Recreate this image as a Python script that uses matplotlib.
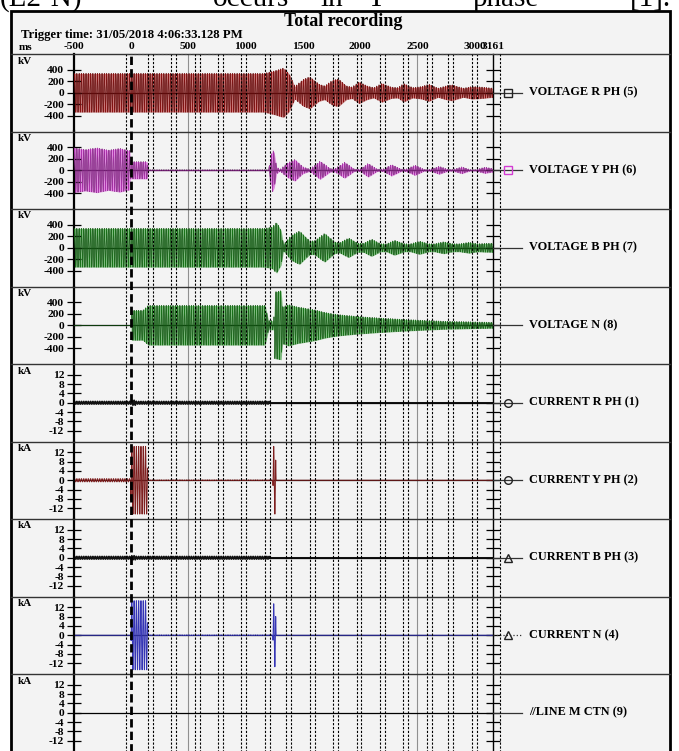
import numpy as np
import matplotlib.pyplot as plt
from matplotlib.lines import Line2D
from matplotlib.patches import Rectangle

plt.rcParams['font.family'] = ['Liberation Serif', 'DejaVu Serif']
plt.rcParams['axes.unicode_minus'] = False

W, H = 679, 751

# ---- data ----
channels = ["VOLTAGE R PH (5)", "VOLTAGE Y PH (6)", "VOLTAGE B PH (7)", "VOLTAGE N (8)",
            "CURRENT R PH (1)", "CURRENT Y PH (2)", "CURRENT B PH (3)", "CURRENT N (4)",
            "//LINE M CTN (9)"]
units = ["kV", "kV", "kV", "kV", "kA", "kA", "kA", "kA", "kA"]
colors = ["#a51515", "#d23cd2", "#1e8c1e", "#1e8c1e", "#111111", "#7e1f1f", "#111111", "#3535b5", "#111111"]
markers = ["s", "s", None, None, "o", "o", "^", "^", None]

kv_ticks = [-400, -200, 0, 200, 400]
ka_ticks = [-12, -8, -4, 0, 4, 8, 12]
x_ticks = [-500, 0, 500, 1000, 1500, 2000, 2500, 3000, 3161]
t_end = 3161

# envelope keypoints (ms, peak value)
r_t = [-500, 1160, 1250, 1330, 1380, 1430, 1500, 1560, 1640, 1690, 1760, 1810, 1880, 1930, 1990,
       2060, 2120, 2190, 2270, 2330, 2380, 2460, 2540, 2600, 2680, 2750, 2800, 2900, 2980, 3060, 3161]
r_a = [337, 337, 380, 430, 330, 110, 230, 280, 150, 120, 220, 240, 120, 100, 190,
       120, 90, 165, 100, 90, 160, 90, 110, 150, 80, 120, 140, 80, 110, 100, 80]

y_t = [-500, -400, -300, -200, -100, -12, -8, 140, 150, 1200, 1215, 1235, 1250, 1270, 1300, 1360, 1430,
       1500, 1560, 1650, 1740, 1780, 1865, 1950, 2000, 2070, 2150, 2200, 2275, 2360, 2400, 2480,
       2560, 2610, 2690, 2770, 2810, 2890, 2960, 3010, 3090, 3161]
y_a = [390, 360, 390, 350, 380, 340, 150, 150, 8, 8, 200, 370, 300, 60, 15, 120, 190,
       60, 20, 160, 30, 30, 140, 20, 20, 120, 20, 20, 100, 20, 20, 90,
       15, 15, 70, 15, 15, 60, 12, 12, 55, 30]

b_t = [-500, 1160, 1230, 1270, 1310, 1330, 1400, 1470, 1560, 1600, 1690, 1780, 1820, 1900, 1980,
       2030, 2100, 2180, 2230, 2300, 2390, 2440, 2520, 2600, 2650, 2730, 2810, 2870, 2950, 3030, 3080, 3161]
b_a = [337, 337, 360, 440, 300, 60, 220, 290, 120, 120, 250, 100, 90, 170, 80,
       80, 150, 70, 70, 130, 70, 70, 115, 70, 70, 105, 70, 70, 95, 70, 75, 80]

n_t = [-500, -2, 0, 100, 150, 1170, 1200, 1245, 1255, 1310, 1320, 1375, 1450, 1600, 1700, 1810,
       2000, 2160, 2400, 2740, 3161]
n_a = [0, 0, 260, 260, 345, 345, 80, 80, 580, 600, 320, 360, 320, 270, 220, 185,
       150, 128, 100, 70, 52]

ir_t = [-500, -5, 0, 40, 45, 1205, 1210, 3161]
ir_a = [0.6, 0.6, 1.1, 1.1, 0.6, 0.6, 0.0, 0.0]

iy_t = [-500, -5, -2, 140, 145, 1238, 1240, 1262, 1265, 3161]
iy_a = [0.7, 0.7, 14.5, 14.5, 0.15, 0.15, 14.5, 14.5, 0.0, 0.0]

ib_t = [-500, -5, 0, 40, 45, 1205, 1210, 3161]
ib_a = [0.6, 0.6, 0.9, 0.9, 0.6, 0.6, 0.0, 0.0]

in_t = [-500, -2, 0, 140, 145, 1238, 1240, 1262, 1265, 3161]
in_a = [0.0, 0.0, 14.8, 14.8, 0.15, 0.15, 13.5, 13.5, 0.0, 0.0]

env = [(r_t, r_a), (y_t, y_a), (b_t, b_a), (n_t, n_a),
       (ir_t, ir_a), (iy_t, iy_a), (ib_t, ib_a), (in_t, in_a), ([-500, t_end], [0, 0])]

# cursor lines (ms)
cursor_t = [-44, 146, 190, 350, 394, 554, 598, 759, 802, 962, 1006, 1166, 1210, 1356, 1400,
            1560, 1604, 1765, 1808, 1969, 2012, 2172, 2216, 2377, 2421, 2581, 2625, 2771, 2815,
            2975, 3018]
grid_t = [500, 2500]

paper_words = ["(L2-N)", "occurs", "in", "Y", "phase", "[1]."]
paper_x = [0, 213, 320, 366, 473, 630]


def fx(x):
    return x / W


def fy(y):
    return 1 - y / H


fig = plt.figure(figsize=(W / 100, H / 100), dpi=100)
fig.patch.set_facecolor("white")

# frame
fig.add_artist(Rectangle((fx(11), fy(760)), fx(670 - 11), (760 - 11) / H, facecolor="#f3f3f3",
                         edgecolor="black", lw=2, transform=fig.transFigure, zorder=0))

# paper text line, cut by the top edge as in the screenshot
for word, xp in zip(paper_words, paper_x):
    fig.text(fx(xp), fy(6), word, fontsize=21, ha="left", va="baseline")

fig.text(fx(343), fy(22), "Total recording", fontsize=13, weight="bold", ha="center", va="center")
fig.text(fx(21), fy(35), "Trigger time: 31/05/2018 4:06:33.128 PM", fontsize=9.2, weight="bold",
         ha="left", va="center")
fig.text(fx(19), fy(48), "ms", fontsize=8, weight="bold", ha="left", va="center")

top0, ph = 54, 77.5
xl, xr = 74, 493
t = np.arange(-500, t_end + 0.25, 0.25)
carrier = np.sin(2 * np.pi * 50 * t / 1000)

for i, name in enumerate(channels):
    top = top0 + i * ph
    ax = fig.add_axes([fx(xl), fy(top + ph), fx(xr - xl), ph / H])
    ax.patch.set_alpha(0)
    ax.set_xlim(-500, t_end)
    if units[i] == "kV":
        ax.set_ylim(-674, 674)
        ax.set_yticks(kv_ticks)
    else:
        ax.set_ylim(-16.6, 16.6)
        ax.set_yticks(ka_ticks)
    for s in ["top", "bottom"]:
        ax.spines[s].set_visible(False)
    ax.spines["left"].set_linewidth(1.6)
    ax.spines["right"].set_linewidth(1.0)
    ax.tick_params(axis="y", direction="inout", length=10, width=0.9, right=True,
                   labelsize=8.2, pad=2)
    for lb in ax.get_yticklabels():
        lb.set_fontweight("bold")
    if i == 0:
        ax.xaxis.set_ticks_position("top")
        ax.set_xticks(x_ticks)
        ax.tick_params(axis="x", length=0, pad=2, labelsize=8.2)
        for lb in ax.get_xticklabels():
            lb.set_fontweight("bold")
    else:
        ax.set_xticks([])

    for g in grid_t:
        ax.axvline(g, color="#909090", lw=0.8, zorder=0.5)
    ax.axhline(0, color="black", lw=0.9, zorder=1)

    et, ea = env[i]
    amp = np.interp(t, et, ea)
    sig = amp * carrier
    if i < 4:
        ax.fill_between(t, -amp, amp, color=colors[i], alpha=0.55, lw=0, zorder=1.5)
        ax.plot(t, sig, color="black", lw=0.35, zorder=2)
        ax.plot(t[::2], sig[::2], color=colors[i], lw=0.35, alpha=0.85, zorder=3)
    elif i < 8:
        lw = 1.1 if i in (4, 6) else 0.7
        ax.plot(t, sig, color=colors[i], lw=lw, zorder=2)

    # unit label
    fig.text(fx(18), fy(top + 7), units[i], fontsize=8, weight="bold", ha="left", va="center")

    # panel separator
    fig.add_artist(Line2D([fx(11), fx(670)], [fy(top), fy(top)], color="#333333", lw=1.0))

    # legend entry
    yz = fy(top + ph / 2)
    ls = ":" if i == 7 else "-"
    fig.add_artist(Line2D([fx(xr), fx(522)], [yz, yz], color="#333333", lw=0.9, ls=ls))
    if markers[i]:
        mc = colors[i] if i == 1 else "#222222"
        fig.add_artist(Line2D([fx(508)], [yz], marker=markers[i], ms=5.5, mfc="none", mec=mc, mew=1.0))
    fig.text(fx(529), yz, name, fontsize=8.8, weight="bold", ha="left", va="center")

# overlay with cursor lines across all panels
ov = fig.add_axes([fx(xl), fy(760), fx(xr - xl), (760 - top0) / H], zorder=5)
ov.set_xlim(-500, t_end)
ov.set_ylim(0, 1)
ov.axis("off")
for c in cursor_t:
    ov.axvline(c, color="black", lw=0.8, ls=(0, (2, 1.5)), clip_on=False)
ov.axvline(0, color="black", lw=2.0, ls=(0, (3, 1.5)), clip_on=False)
ov.plot([-44, 3222], [1, 1], color="#444444", lw=0.8, ls=(0, (2, 1.5)), clip_on=False)
ov.axvline(3222, color="black", lw=0.8, ls=(0, (2, 1.5)), clip_on=False)

fig.savefig("out.png", dpi=100)
